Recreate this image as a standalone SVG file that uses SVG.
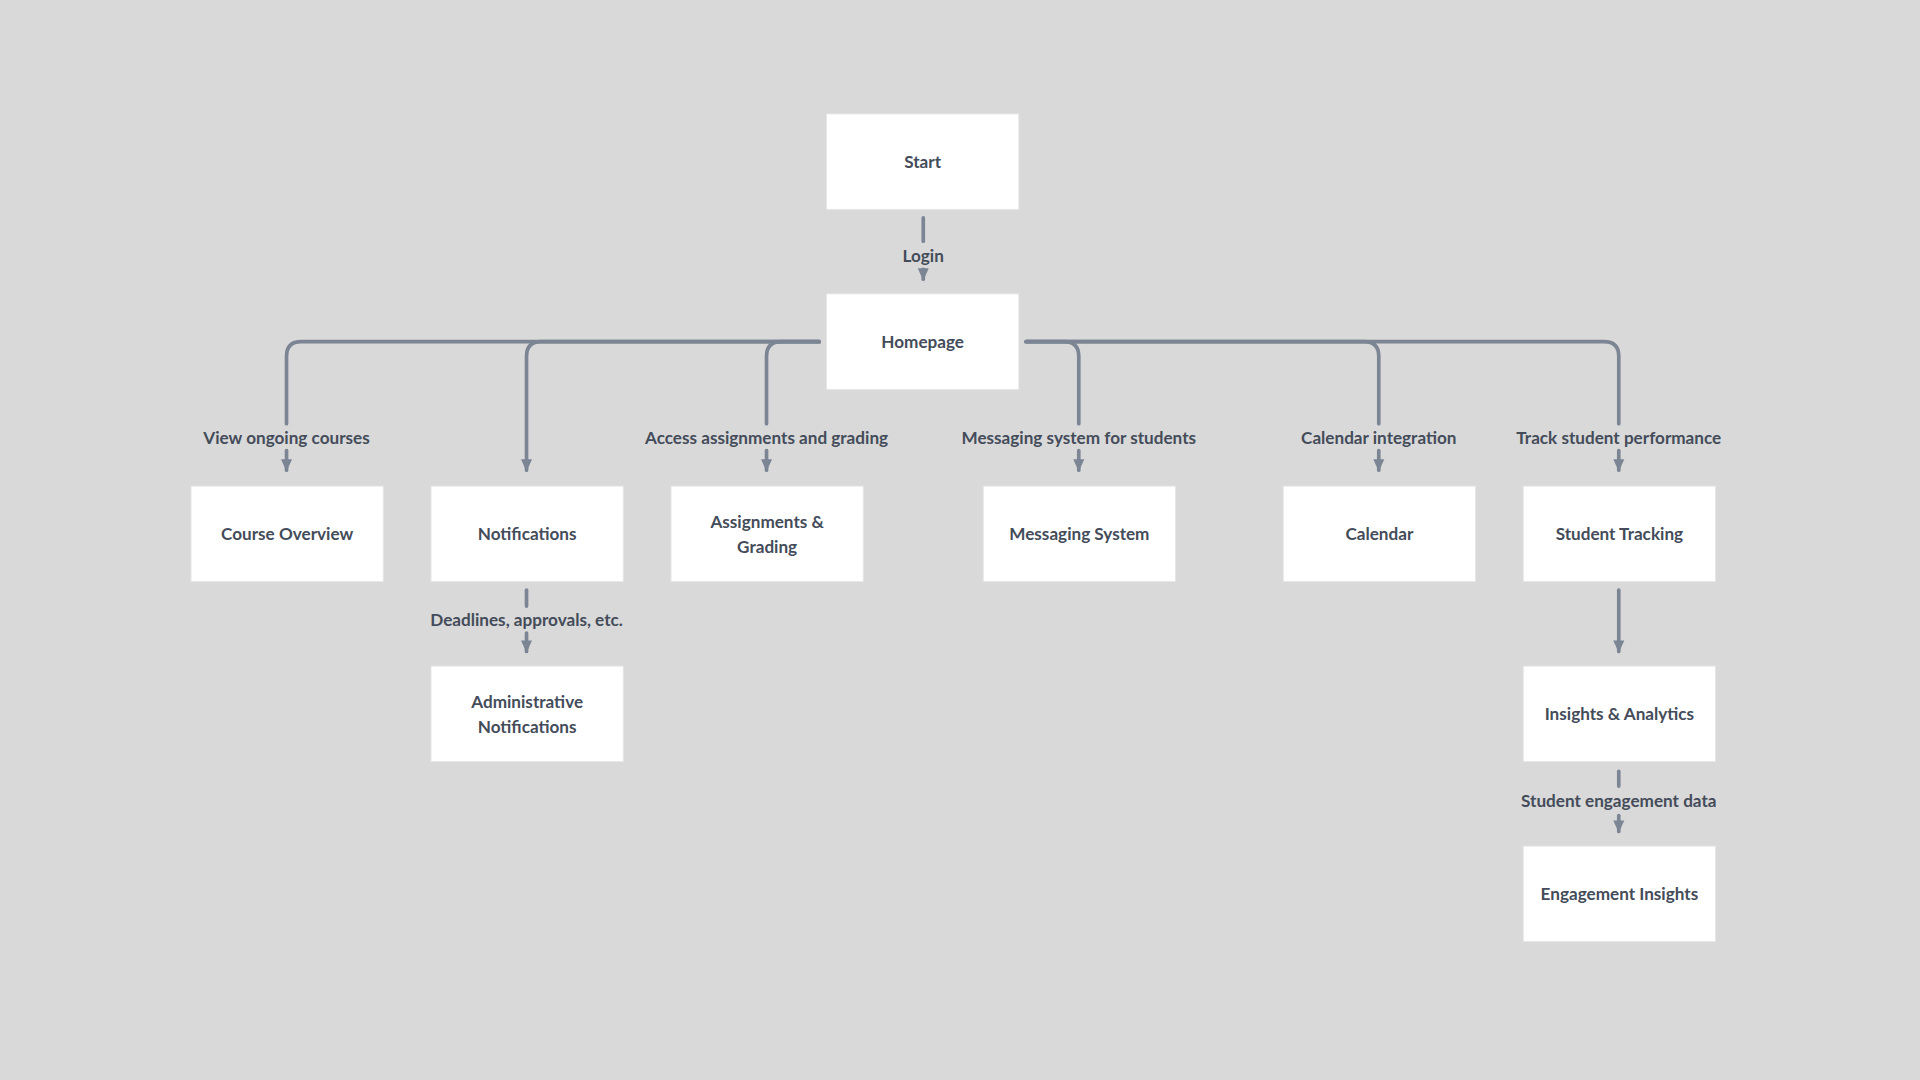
<svg xmlns="http://www.w3.org/2000/svg" width="1920" height="1080" viewBox="0 0 1920 1080">
<defs>
<style>
.box{fill:#ffffff;stroke:#e6e6e6;stroke-width:0.8}
.t{font-family:Lato,"Open Sans",sans-serif;font-weight:700;font-size:14px;fill:#444c5a;text-anchor:middle;dominant-baseline:central}
.c{fill:none;stroke:#7b8594;stroke-width:3;stroke-linecap:round}
</style>
<marker id="ah" markerUnits="userSpaceOnUse" markerWidth="12" markerHeight="10" refX="6" refY="9" viewBox="0 0 12 10" orient="auto-start-reverse">
<path d="M1,1 L11,1 L6,9 Z" fill="#7b8594" transform="rotate(-90 6 5)"/>
</marker>
<marker id="a" markerUnits="userSpaceOnUse" markerWidth="12" markerHeight="10" refX="9" refY="5" viewBox="0 0 12 10" orient="auto">
<path d="M0,0.5 L10,5 L0,9.5 Z" fill="#7b8594"/>
</marker>
</defs>
<rect width="1920" height="1080" fill="#d9d9d9"/>
<g transform="scale(1.22449)">
<g id="connectors">
<path class="c" d="M754,178 V197"/>
<path class="c" d="M754,220 V228" marker-end="url(#a)"/>
<path class="c" d="M669,279 H246 Q234,279 234,291 V346"/>
<path class="c" d="M234,368 V384" marker-end="url(#a)"/>
<path class="c" d="M669,279 H442 Q430,279 430,291 V384" marker-end="url(#a)"/>
<path class="c" d="M669,279 H638 Q626,279 626,291 V346"/>
<path class="c" d="M626,368 V384" marker-end="url(#a)"/>
<path class="c" d="M838,279 H869 Q881,279 881,291 V346"/>
<path class="c" d="M881,368 V384" marker-end="url(#a)"/>
<path class="c" d="M838,279 H1114 Q1126,279 1126,291 V346"/>
<path class="c" d="M1126,368 V384" marker-end="url(#a)"/>
<path class="c" d="M838,279 H1310 Q1322,279 1322,291 V346"/>
<path class="c" d="M1322,368 V384" marker-end="url(#a)"/>
<path class="c" d="M430,482 V495"/>
<path class="c" d="M430,517 V532" marker-end="url(#a)"/>
<path class="c" d="M1322,482 V532" marker-end="url(#a)"/>
<path class="c" d="M1322,630 V642"/>
<path class="c" d="M1322,666 V679" marker-end="url(#a)"/>
<text class="t" x="754" y="209">Login</text>
<text class="t" x="234" y="357">View ongoing courses</text>
<text class="t" x="626" y="357">Access assignments and grading</text>
<text class="t" x="881" y="357">Messaging system for students</text>
<text class="t" x="1126" y="357">Calendar integration</text>
<text class="t" x="1322" y="357">Track student performance</text>
<text class="t" x="430" y="506">Deadlines, approvals, etc.</text>
<text class="t" x="1322" y="654">Student engagement data</text>
</g>
<g id="start"><rect class="box" x="675" y="93" width="157" height="78"/><text class="t" x="753.5" y="132">Start</text></g>
<g id="homepage"><rect class="box" x="675" y="240" width="157" height="78"/><text class="t" x="753.5" y="279">Homepage</text></g>
<g id="course"><rect class="box" x="156" y="397" width="157" height="78"/><text class="t" x="234.5" y="436">Course Overview</text></g>
<g id="notifications"><rect class="box" x="352" y="397" width="157" height="78"/><text class="t" x="430.5" y="436">Notifications</text></g>
<g id="assignments"><rect class="box" x="548" y="397" width="157" height="78"/><text class="t" x="626.5" y="426">Assignments &amp;</text><text class="t" x="626.5" y="446">Grading</text></g>
<g id="messaging"><rect class="box" x="803" y="397" width="157" height="78"/><text class="t" x="881.5" y="436">Messaging System</text></g>
<g id="calendar"><rect class="box" x="1048" y="397" width="157" height="78"/><text class="t" x="1126.5" y="436">Calendar</text></g>
<g id="tracking"><rect class="box" x="1244" y="397" width="157" height="78"/><text class="t" x="1322.5" y="436">Student Tracking</text></g>
<g id="admin"><rect class="box" x="352" y="544" width="157" height="78"/><text class="t" x="430.5" y="573">Administrative</text><text class="t" x="430.5" y="593">Notifications</text></g>
<g id="insights"><rect class="box" x="1244" y="544" width="157" height="78"/><text class="t" x="1322.5" y="583">Insights &amp; Analytics</text></g>
<g id="engagement"><rect class="box" x="1244" y="691" width="157" height="78"/><text class="t" x="1322.5" y="730">Engagement Insights</text></g>
</g>
</svg>
